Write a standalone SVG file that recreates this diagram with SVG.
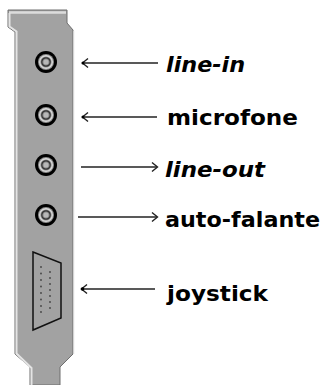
<svg xmlns="http://www.w3.org/2000/svg" width="323" height="385" viewBox="0 0 323 385">
  <style>
    .lbl { font-family: "DejaVu Sans", Verdana, sans-serif; font-weight: bold; font-size: 22px; fill: #000; }
    .it { font-style: italic; }
    .wire { stroke: #222; stroke-width: 1.6; fill: none; }
    .head { stroke: #222; stroke-width: 1.4; fill: none; }
  </style>
  <defs>
    <g id="jack">
      <circle r="11" fill="#000"/>
      <circle r="8" fill="#8c8c8c"/>
      <circle r="6.3" fill="none" stroke="#d8d8d8" stroke-width="1.4"/>
      <circle r="4.2" fill="none" stroke="#303030" stroke-width="1.2"/>
      <circle r="2.5" fill="#b8b8b8"/>
    </g>
  </defs>

  <rect width="323" height="385" fill="#fff"/>

  <!-- expansion bracket -->
  <g id="bracket">
    <path d="M8,10 H67 V23 L73,30 V354 L60,367 V385 H30 V367 L15,354 V32 L8,27 Z" fill="#a2a2a2" stroke="#6e6e6e" stroke-width="1"/>
    <path d="M9,12.5 H66" stroke="#dcdcdc" stroke-width="2.5"/>
    <path d="M9.5,13 V26.5 L16.5,31.5 V353.5 L31.5,368 V385" fill="none" stroke="#e4e4e4" stroke-width="2"/>
    <path d="M74,31 V354" stroke="#f0f0f0" stroke-width="1"/>
  </g>

  <!-- audio jacks -->
  <g id="jack-line-in"><use href="#jack" x="46" y="62"/></g>
  <g id="jack-mic"><use href="#jack" x="46" y="115"/></g>
  <g id="jack-line-out"><use href="#jack" x="46" y="165"/></g>
  <g id="jack-speaker"><use href="#jack" x="46" y="215"/></g>

  <!-- game port -->
  <g id="joystick-port">
    <path d="M33,252 L61,263 V318 L33,330 Z" fill="#a2a2a2" stroke="#111" stroke-width="1.5"/>
    <g fill="#444">
      <circle cx="41" cy="267" r="0.9"/><circle cx="41" cy="273.5" r="0.9"/><circle cx="41" cy="280" r="0.9"/><circle cx="41" cy="286.5" r="0.9"/>
      <circle cx="41" cy="293" r="0.9"/><circle cx="41" cy="299.5" r="0.9"/><circle cx="41" cy="306" r="0.9"/><circle cx="41" cy="312" r="0.9"/>
      <circle cx="50" cy="272" r="0.9"/><circle cx="50" cy="278" r="0.9"/><circle cx="50" cy="284" r="0.9"/><circle cx="50" cy="290" r="0.9"/>
      <circle cx="50" cy="296" r="0.9"/><circle cx="50" cy="302" r="0.9"/><circle cx="50" cy="308" r="0.9"/>
    </g>
  </g>

  <!-- connectors -->
  <g id="connectors">
    <path class="wire" d="M83,63 H158"/>
    <path class="head" d="M88,58.5 L82.5,63 L88,67.5"/>
    <path class="wire" d="M83,117 H157"/>
    <path class="head" d="M88,112.5 L82.5,117 L88,121.5"/>
    <path class="wire" d="M81,167 H157"/>
    <path class="head" d="M152,162.5 L157.5,167 L152,171.5"/>
    <path class="wire" d="M78,217 H157"/>
    <path class="head" d="M152,212.5 L157.5,217 L152,221.5"/>
    <path class="wire" d="M82,289 H155" stroke-width="2"/>
    <path class="head" d="M87,284.5 L81.5,289 L87,293.5"/>
    <g fill="#000">
      <circle cx="83" cy="63" r="1.5"/>
      <circle cx="83" cy="117" r="1.5"/>
      <circle cx="82.5" cy="289" r="1.8"/>
    </g>
  </g>

  <!-- labels -->
  <g id="labels">
    <text class="lbl it" x="166" y="72" textLength="79" lengthAdjust="spacingAndGlyphs">line-in</text>
    <text class="lbl" x="167" y="125" textLength="131" lengthAdjust="spacingAndGlyphs">microfone</text>
    <text class="lbl it" x="165" y="177" textLength="100" lengthAdjust="spacingAndGlyphs">line-out</text>
    <text class="lbl" x="165" y="227" textLength="155" lengthAdjust="spacingAndGlyphs">auto-falante</text>
    <text class="lbl" x="167" y="301" textLength="101" lengthAdjust="spacingAndGlyphs">joystick</text>
  </g>
</svg>
